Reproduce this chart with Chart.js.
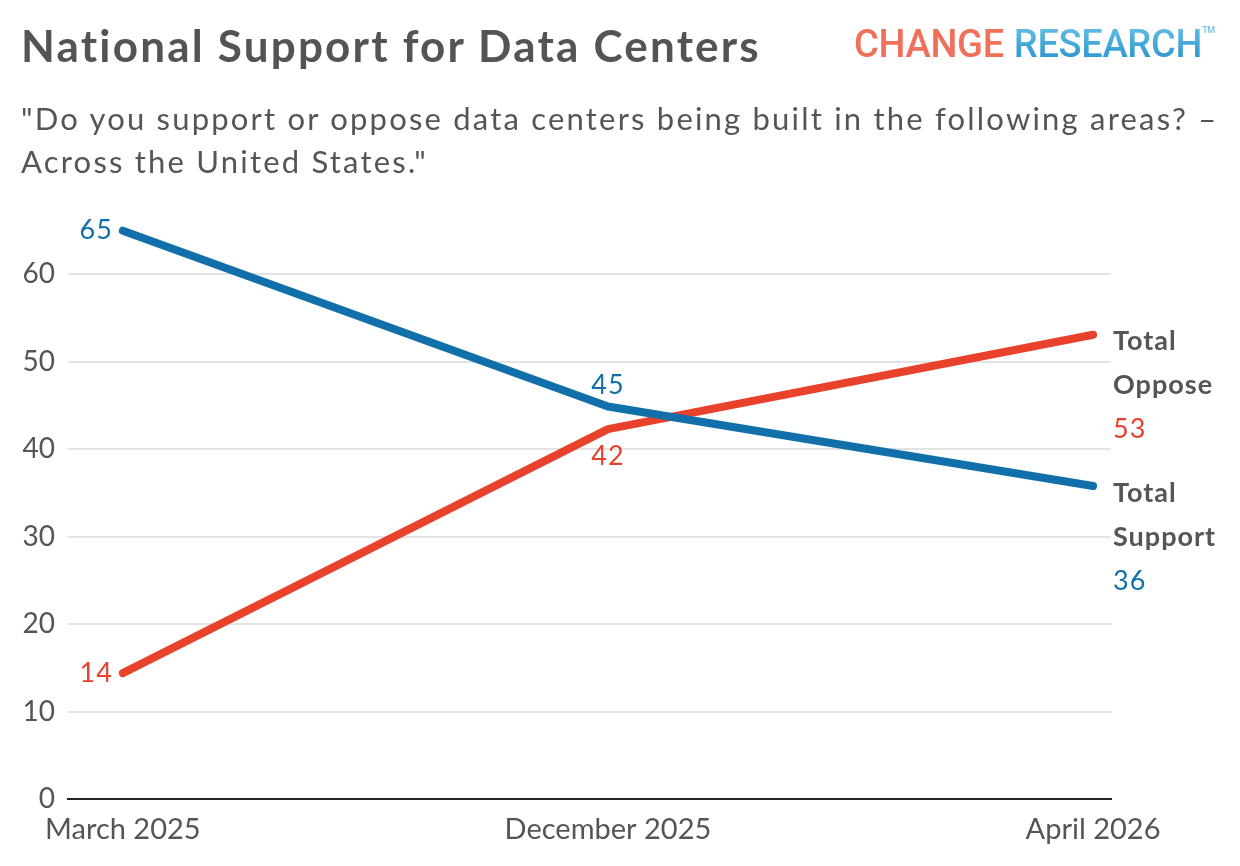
<!DOCTYPE html>
<html lang="en">
<head>
<meta charset="UTF-8">
<title>National Support for Data Centers</title>
<script src="https://cdn.jsdelivr.net/npm/chart.js"></script>
<style>
  body { margin: 0; background: #fff; font-family: Lato, "Noto Sans", sans-serif; }
  #page { position: relative; width: 1240px; height: 866px; overflow: hidden; }
  #title { position: absolute; left: 21px; top: 19px; font-size: 44px; letter-spacing: 2.2px; font-weight: 700; color: #545454; white-space: nowrap; }
  #subtitle { position: absolute; left: 21px; top: 97px; font-size: 31px; line-height: 43px; letter-spacing: 2.2px; color: #555; white-space: nowrap; }
  #logo { position: absolute; left: 854px; top: 22px; font-family: Roboto, sans-serif; font-weight: 500; font-size: 38px; letter-spacing: -0.3px; white-space: nowrap; }
  #logo .c { color: #f0705a; }
  #logo .r { background: linear-gradient(#6cc2e8, #1f8fcc); -webkit-background-clip: text; background-clip: text; color: transparent; margin-left: 10px; }
  #logo sup { font-size: 9px; color: #7bbfe0; vertical-align: 24px; }
  #chartWrap { position: absolute; left: 0; top: 0; width: 1240px; height: 866px; }
</style>
</head>
<body>
<div id="page">
  <div id="chartWrap"><canvas id="lineChart" width="1240" height="866"></canvas></div>
  <div id="title">National Support for Data Centers</div>
  <div id="logo"><span class="c">CHANGE</span><span class="r">RESEARCH</span><sup>TM</sup></div>
  <div id="subtitle">"Do you support or oppose data centers being built in the following areas? –<br>Across the United States."</div>
</div>

<script>
// values
const periods = ['March 2025', 'December 2025', 'April 2026'];
const support = [65, 44.9, 35.8];
const oppose = [14.4, 42.3, 53.1];
const supportLabels = ['65', '45', '36'];
const opposeLabels = ['14', '42', '53'];
const yTicks = [0, 10, 20, 30, 40, 50, 60];

const BLUE = '#1170aa';
const RED = '#e8412c';
const GREY = '#555';
const FONT = 'Lato, "Noto Sans", sans-serif';

// point labels + end-of-line series names
const labelPlugin = {
    id: 'labels',
    afterDatasetsDraw(chart) {
        const ctx = chart.ctx;
        const xs = chart.scales.x, ys = chart.scales.y;
        ctx.save();
        ctx.letterSpacing = '1px';
        ctx.font = '27px ' + FONT;
        ctx.textBaseline = 'middle';

        // first point: labels on the left
        ctx.textAlign = 'right';
        ctx.fillStyle = BLUE;
        ctx.fillText(supportLabels[0], xs.getPixelForValue(0) - 10, ys.getPixelForValue(support[0]));
        ctx.fillStyle = RED;
        ctx.fillText(opposeLabels[0], xs.getPixelForValue(0) - 10, ys.getPixelForValue(oppose[0]));

        // middle point: above / below
        ctx.textAlign = 'center';
        ctx.fillStyle = BLUE;
        ctx.fillText(supportLabels[1], xs.getPixelForValue(1), ys.getPixelForValue(support[1]) - 21);
        ctx.fillStyle = RED;
        ctx.fillText(opposeLabels[1], xs.getPixelForValue(1), ys.getPixelForValue(oppose[1]) + 27);

        // right side series names
        ctx.textAlign = 'left';
        const lx = chart.chartArea.right + 2;
        const oy = ys.getPixelForValue(oppose[2]) + 7;
        const sy = ys.getPixelForValue(support[2]) + 7;
        ctx.font = 'bold 27px ' + FONT;
        ctx.fillStyle = GREY;
        ctx.fillText('Total', lx, oy);
        ctx.fillText('Oppose', lx, oy + 44);
        ctx.fillText('Total', lx, sy);
        ctx.fillText('Support', lx, sy + 44);
        ctx.font = '27px ' + FONT;
        ctx.fillStyle = RED;
        ctx.fillText(opposeLabels[2], lx, oy + 88);
        ctx.fillStyle = BLUE;
        ctx.fillText(supportLabels[2], lx, sy + 88);
        ctx.restore();
    }
};

new Chart(document.getElementById('lineChart'), {
    type: 'line',
    data: {
        datasets: [
            {
                label: 'Total Support',
                data: support.map((v, i) => ({ x: i, y: v })),
                borderColor: BLUE,
                borderWidth: 8,
                borderCapStyle: 'round',
                borderJoinStyle: 'round',
                pointRadius: 0,
                tension: 0
            },
            {
                label: 'Total Oppose',
                data: oppose.map((v, i) => ({ x: i, y: v })),
                borderColor: RED,
                borderWidth: 8,
                borderCapStyle: 'round',
                borderJoinStyle: 'round',
                pointRadius: 0,
                tension: 0
            }
        ]
    },
    options: {
        responsive: false,
        animation: false,
        devicePixelRatio: 1,
        layout: { padding: { top: 187, right: 129, left: 0, bottom: 0 } },
        plugins: { legend: { display: false }, tooltip: { enabled: false } },
        scales: {
            x: {
                type: 'linear',
                min: -0.113,
                max: 2.037,
                afterBuildTicks: s => { s.ticks = periods.map((p, i) => ({ value: i })); },
                afterFit: s => { s.height = 67; },
                grid: { display: false, drawTicks: false },
                border: { display: true, color: '#222', width: 2 },
                ticks: {
                    padding: 13,
                    maxRotation: 0,
                    autoSkip: false,
                    color: GREY,
                    font: { family: FONT, size: 29 },
                    callback: v => periods[v]
                }
            },
            y: {
                min: 0,
                max: 70,
                afterBuildTicks: s => { s.ticks = yTicks.map(v => ({ value: v })); },
                afterFit: s => { s.width = 68; },
                grid: {
                    color: ctx => ctx.tick && ctx.tick.value === 0 ? 'rgba(0,0,0,0)' : '#e3e3e3',
                    lineWidth: 2,
                    drawTicks: false
                },
                border: { display: false },
                ticks: {
                    padding: 13,
                    color: GREY,
                    font: { family: FONT, size: 28 }
                }
            }
        }
    },
    plugins: [labelPlugin]
});
</script>
</body>
</html>
